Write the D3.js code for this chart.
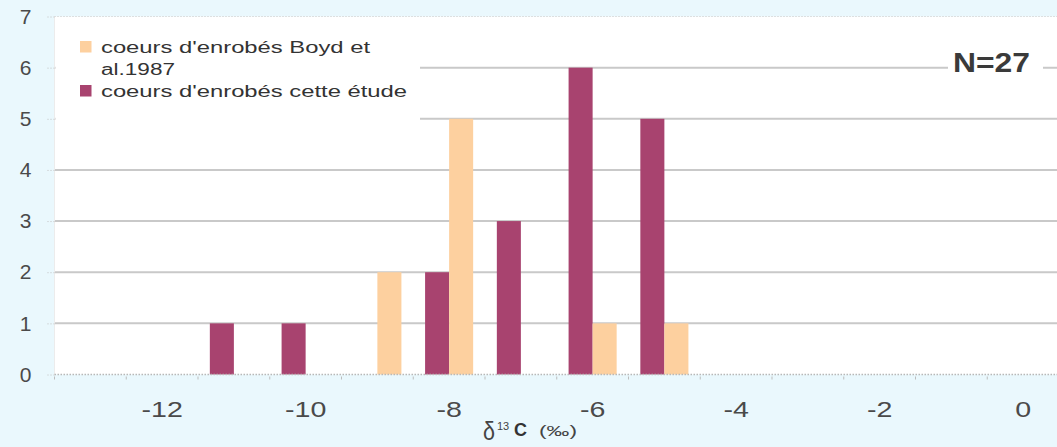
<!DOCTYPE html>
<html>
<head>
<meta charset="utf-8">
<script src="https://cdn.jsdelivr.net/npm/d3@7"></script>
<style>
  html, body { margin: 0; padding: 0; background: #eaf8fd; }
  svg { display: block; }
  text { font-family: "Liberation Sans", Arial, sans-serif; }
</style>
</head>
<body>
<svg id="chart" width="1057" height="447"></svg>
<script>
// ---- data ----
const categories = ["-13","-12","-11","-10","-9","-8","-7","-6","-5","-4","-3","-2","-1","0"];
const seriesNames = ["coeurs d'enrobés cette étude", "coeurs d'enrobés Boyd et al.1987"];
const cetteEtude = [0, 0, 1, 1, 0, 2, 3, 6, 5, 0, 0, 0, 0, 0];
const boyd1987   = [0, 0, 0, 0, 2, 5, 0, 1, 1, 0, 0, 0, 0, 0];
const xTickLabels = ["-12","-10","-8","-6","-4","-2","0"];
const yTickLabels = [0, 1, 2, 3, 4, 5, 6, 7];
const annotation = "N=27";

// ---- layout ----
const W = 1057, H = 447;
const plot = { left: 54.5, right: 1059, top: 16.5, bottom: 374.5 };
const colors = { cette: "#a8436f", boyd: "#fdd09f" };
const svg = d3.select("#chart");

// plot background
svg.append("rect")
  .attr("x", plot.left).attr("y", plot.top)
  .attr("width", W - plot.left).attr("height", plot.bottom - plot.top)
  .attr("fill", "#ffffff");

const x = d3.scaleBand().domain(categories)
  .range([plot.left, plot.right]).paddingInner(0.33).paddingOuter(0.165);
const x1 = d3.scaleBand().domain(["cette", "boyd"]).range([0, x.bandwidth()]);
const y = d3.scaleLinear().domain([0, 7]).range([plot.bottom, plot.top]);

// gridlines
yTickLabels.forEach(v => {
  if (v === 0 || v === 7) return;
  svg.append("line")
    .attr("x1", plot.left).attr("x2", W)
    .attr("y1", y(v)).attr("y2", y(v))
    .attr("stroke", "#c9c9c9").attr("stroke-width", 2);
});
// top border (dotted)
svg.append("line")
  .attr("x1", plot.left).attr("x2", W)
  .attr("y1", y(7)).attr("y2", y(7))
  .attr("stroke", "#c4c4c4").attr("stroke-width", 1).attr("stroke-dasharray", "1,2");
// left faint border
svg.append("line")
  .attr("x1", plot.left).attr("x2", plot.left)
  .attr("y1", y(7)).attr("y2", y(0))
  .attr("stroke", "#ececec").attr("stroke-width", 1);

// legend box (white, covers gridlines)
svg.append("rect").attr("x", plot.left + 1).attr("y", plot.top + 1)
  .attr("width", 420 - plot.left - 1).attr("height", 125)
  .attr("fill", "#ffffff");

// bars
const rows = categories.map((c, i) => ({ c, cette: cetteEtude[i], boyd: boyd1987[i] }));
const g = svg.append("g");
["cette", "boyd"].forEach(key => {
  g.selectAll(null).data(rows.filter(d => d[key] > 0)).enter().append("rect")
    .attr("x", d => x(d.c) + x1(key))
    .attr("width", x1.bandwidth())
    .attr("y", d => y(d[key]))
    .attr("height", d => y(0) - y(d[key]))
    .attr("fill", colors[key]);
});

// baseline (dotted)
svg.append("line")
  .attr("x1", plot.left).attr("x2", W)
  .attr("y1", y(0)).attr("y2", y(0))
  .attr("stroke", "#b8b8b8").attr("stroke-width", 1.5).attr("stroke-dasharray", "1.5,1.5");

// x boundary tick marks
d3.range(categories.length + 1).forEach(i => {
  const xx = plot.left + i * x.step();
  svg.append("line")
    .attr("x1", xx).attr("x2", xx)
    .attr("y1", y(0) + 2).attr("y2", y(0) + 5)
    .attr("stroke", "#bdbdbd").attr("stroke-width", 1);
});

// x axis labels
const xAxis = d3.axisBottom(x).tickValues(xTickLabels).tickSize(0).tickPadding(0);
const xg = svg.append("g").attr("transform", `translate(0,${y(0)})`).call(xAxis);
xg.select(".domain").remove();
xg.selectAll("text")
  .attr("y", 43).attr("dy", null)
  .attr("font-size", 22).attr("fill", "#4a4a4a")
  .attr("font-family", "Liberation Sans, Arial, sans-serif")
  .attr("transform", "scale(1.3,1)")
  .attr("x", function(d) { return 0; });

// y axis
const yAxis = d3.axisLeft(y).tickValues(yTickLabels).tickSize(9).tickPadding(13).tickFormat(d3.format("d"));
const yg = svg.append("g").attr("transform", `translate(${plot.left},0)`).call(yAxis);
yg.select(".domain").remove();
yg.selectAll(".tick line").attr("stroke", "#c0c0c0").attr("stroke-dasharray", "1,2");
yg.selectAll("text")
  .attr("font-size", 21).attr("fill", "#4a4a4a")
  .attr("text-anchor", "middle").attr("x", -29)
  .attr("font-family", "Liberation Sans, Arial, sans-serif");

// legend
const legendItems = [
  { key: "boyd", lines: ["coeurs d'enrobés Boyd et", "al.1987"], lens: [269, 74], y0: 53 },
  { key: "cette", lines: ["coeurs d'enrobés cette étude"], lens: [306], y0: 97 }
];
legendItems.forEach(it => {
  svg.append("rect").attr("x", 80).attr("y", it.y0 - 12)
    .attr("width", 11.5).attr("height", 11.5).attr("fill", colors[it.key]);
  it.lines.forEach((ln, j) => {
    svg.append("text").attr("x", 101).attr("y", it.y0 + j * 22)
      .attr("font-size", 16).attr("fill", "#333")
      .attr("textLength", it.lens[j]).attr("lengthAdjust", "spacingAndGlyphs")
      .text(ln);
  });
});

// N=27 annotation
svg.append("rect").attr("x", 948).attr("y", 50).attr("width", 95).attr("height", 30).attr("fill", "#ffffff");
svg.append("text").attr("x", 953).attr("y", 72)
  .attr("font-size", 28).attr("font-weight", "bold").attr("fill", "#3a3a3a")
  .attr("textLength", 77).attr("lengthAdjust", "spacingAndGlyphs")
  .text(annotation);

// x title: δ13C (‰)
const tg = svg.append("g");
tg.append("text").attr("x", 483).attr("y", 440)
  .attr("font-family", "Liberation Serif, serif").attr("font-size", 26).attr("fill", "#444")
  .attr("textLength", 12).attr("lengthAdjust", "spacingAndGlyphs").text("δ");
tg.append("text").attr("x", 497).attr("y", 430)
  .attr("font-size", 11).attr("fill", "#444").text("13");
tg.append("text").attr("x", 514).attr("y", 436)
  .attr("font-size", 18).attr("font-weight", "bold").attr("fill", "#333").text("C");
tg.append("text").attr("x", 539).attr("y", 436)
  .attr("font-size", 15).attr("fill", "#444")
  .attr("textLength", 38).attr("lengthAdjust", "spacingAndGlyphs").text("(‰)");
</script>
</body>
</html>
